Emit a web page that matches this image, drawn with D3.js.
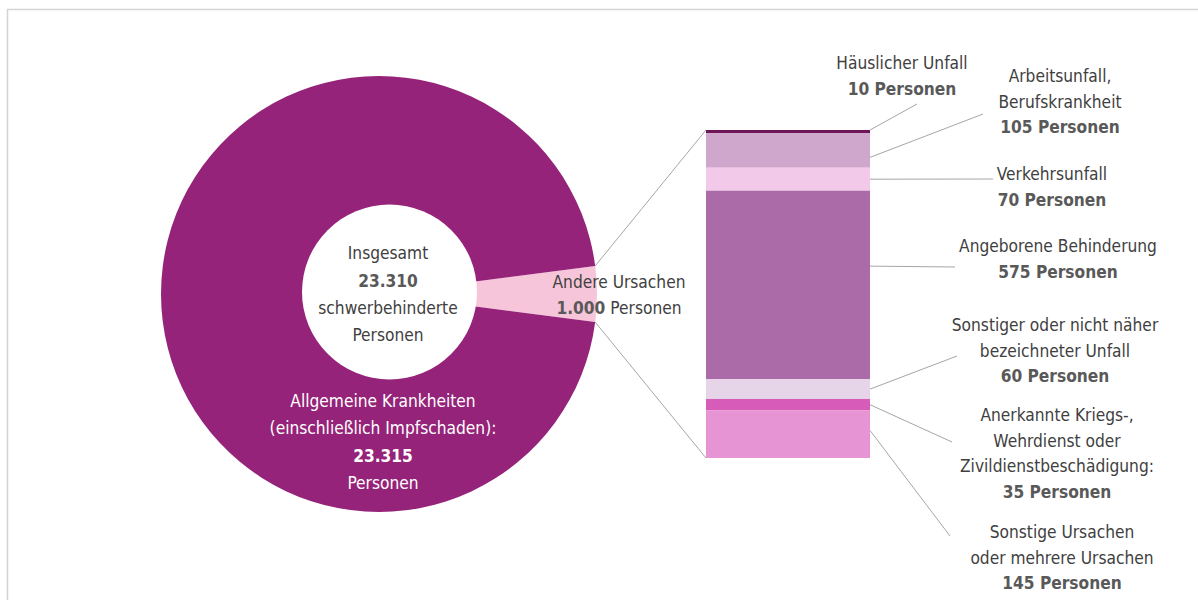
<!DOCTYPE html>
<html><head><meta charset="utf-8">
<script src="https://cdn.jsdelivr.net/npm/d3@7"></script>
<style>
html,body{margin:0;padding:0;background:#fff;}
svg{display:block;}
text{font-family:"Liberation Sans Narrow","DejaVu Sans Condensed","Open Sans",sans-serif;font-stretch:condensed;}
</style></head><body>
<script>
// ---- data ----
const pieCategories = ["Andere Ursachen", "Allgemeine Krankheiten (einschließlich Impfschaden)"];
const pieValues = [1000, 23315];
const totalLabel = "23.310";
const barCategories = ["Häuslicher Unfall","Arbeitsunfall, Berufskrankheit","Verkehrsunfall","Angeborene Behinderung","Sonstiger oder nicht näher bezeichneter Unfall","Anerkannte Kriegs-, Wehrdienst oder Zivildienstbeschädigung","Sonstige Ursachen oder mehrere Ursachen"];
const barValues = [10, 105, 70, 575, 60, 35, 145];
const barLabelLines = [
  ["Häuslicher Unfall"],
  ["Arbeitsunfall,","Berufskrankheit"],
  ["Verkehrsunfall"],
  ["Angeborene Behinderung"],
  ["Sonstiger oder nicht näher","bezeichneter Unfall"],
  ["Anerkannte Kriegs-,","Wehrdienst oder","Zivildienstbeschädigung:"],
  ["Sonstige Ursachen","oder mehrere Ursachen"]
];
const barValueLabels = ["10 Personen","105 Personen","70 Personen","575 Personen","60 Personen","35 Personen","145 Personen"];

// ---- styles / layout ----
const W = 1198, H = 600;
const pieColors = ["#f7c5da", "#95237a"];
const barColors = ["#6e1458","#cfa6cc","#f2c9e8","#ab6ba8","#e6d5e9","#d75cba","#e694d4"];
const txt = "#404040", boldTxt = "#595959", lineCol = "#a6a6a6";
const cx = 379, cy = 294, R = 218;
const holeCx = 389.5, holeCy = 292, holeR = 87.5;
const barX0 = 706, barX1 = 870, barTop = 130, barBottom = 458;
// label layout: [text center x, first baseline y, leader end x, leader end y, fraction in segment for leader start]
const labelLayout = [
  [902, 69, 917, 104, 0],
  [1060, 82, 983, 114, 0.7],
  [1052, 180, 993, 179, 0.5],
  [1058, 252, 955, 267, 0.4],
  [1055, 331, 957, 356, 0.5],
  [1057, 421, 952, 442, 0.5],
  [1062, 538, 950, 536, 0.42]
];
const lh = 25.5;
const fs = 17.2;

const svg = d3.select("body").append("svg").attr("width", W).attr("height", H);

// frame
svg.append("rect").attr("x", 7.5).attr("y", 9.5).attr("width", W + 10).attr("height", H + 10)
  .attr("fill", "none").attr("stroke", "#d4d4d4").attr("stroke-width", 1.5);

// pie
const total = d3.sum(pieValues);
const half = Math.PI * pieValues[0] / total;
const pie = d3.pie().sort(null).startAngle(Math.PI / 2 - half).endAngle(Math.PI / 2 - half + 2 * Math.PI);
const arcs = pie(pieValues);
const arc = d3.arc().innerRadius(0).outerRadius(R);
const gPie = svg.append("g").attr("transform", `translate(${cx},${cy})`);
gPie.selectAll("path").data(arcs).join("path").attr("d", arc).attr("fill", (d, i) => pieColors[i]);
svg.append("circle").attr("cx", holeCx).attr("cy", holeCy).attr("r", holeR).attr("fill", "#fff");

// bar
const y = d3.scaleLinear().domain([0, d3.sum(barValues)]).range([barTop, barBottom]);
const stacked = [];
let acc = 0;
barValues.forEach((v, i) => { stacked.push({ i, y0: acc, y1: acc + v }); acc += v; });
svg.append("g").selectAll("rect").data(stacked).join("rect")
  .attr("x", barX0).attr("width", barX1 - barX0)
  .attr("y", d => y(d.y0)).attr("height", d => y(d.y1) - y(d.y0))
  .attr("fill", d => barColors[d.i]);

// connector lines from pink slice to bar
const pa = arcs[0];
const p1 = [cx + R * Math.sin(pa.startAngle), cy - R * Math.cos(pa.startAngle)];
const p2 = [cx + R * Math.sin(pa.endAngle), cy - R * Math.cos(pa.endAngle)];
svg.append("line").attr("x1", p1[0]).attr("y1", p1[1]).attr("x2", barX0).attr("y2", y(0))
  .attr("stroke", lineCol).attr("stroke-width", 1);
svg.append("line").attr("x1", p2[0]).attr("y1", p2[1]).attr("x2", barX0).attr("y2", y(d3.sum(barValues)))
  .attr("stroke", lineCol).attr("stroke-width", 1);

// leader lines + labels
stacked.forEach((d, i) => {
  const L = labelLayout[i];
  const ys = y(d.y0 + (d.y1 - d.y0) * L[4]);
  svg.append("line").attr("x1", barX1).attr("y1", ys).attr("x2", L[2]).attr("y2", L[3])
    .attr("stroke", lineCol).attr("stroke-width", 1);
  const t = svg.append("text").attr("text-anchor", "middle").attr("font-size", fs);
  const lines = barLabelLines[i];
  lines.forEach((s, k) => {
    t.append("tspan").attr("x", L[0]).attr("y", L[1] + k * lh).attr("fill", txt).text(s);
  });
  t.append("tspan").attr("x", L[0]).attr("y", L[1] + lines.length * lh)
    .attr("fill", boldTxt).attr("font-weight", "bold").text(barValueLabels[i]);
});

// center text
const ct = svg.append("text").attr("text-anchor", "middle").attr("font-size", fs);
ct.append("tspan").attr("x", 388).attr("y", 259).attr("fill", txt).text("Insgesamt");
ct.append("tspan").attr("x", 388).attr("y", 287).attr("fill", boldTxt).attr("font-weight", "bold").text(totalLabel);
ct.append("tspan").attr("x", 388).attr("y", 314).attr("fill", txt).text("schwerbehinderte");
ct.append("tspan").attr("x", 388).attr("y", 341).attr("fill", txt).text("Personen");

// Andere Ursachen label
const fmt = d3.formatLocale({decimal: ",", thousands: ".", grouping: [3], currency: ["", "€"]}).format(",");
const at = svg.append("text").attr("text-anchor", "middle").attr("font-size", fs);
at.append("tspan").attr("x", 619).attr("y", 288).attr("fill", txt).text(pieCategories[0]);
const at2 = at.append("tspan").attr("x", 619).attr("y", 314);
at2.append("tspan").attr("fill", boldTxt).attr("font-weight", "bold").text(fmt(pieValues[0]));
at2.append("tspan").attr("fill", txt).text(" Personen");

// Allgemeine Krankheiten label
const gt = svg.append("text").attr("text-anchor", "middle").attr("font-size", fs).attr("fill", "#fff");
gt.append("tspan").attr("x", 383).attr("y", 407).text("Allgemeine Krankheiten");
gt.append("tspan").attr("x", 383).attr("y", 434).text("(einschließlich Impfschaden):");
gt.append("tspan").attr("x", 383).attr("y", 462).attr("font-weight", "bold").text(fmt(pieValues[1]));
gt.append("tspan").attr("x", 383).attr("y", 489).text("Personen");
</script>
</body></html>
